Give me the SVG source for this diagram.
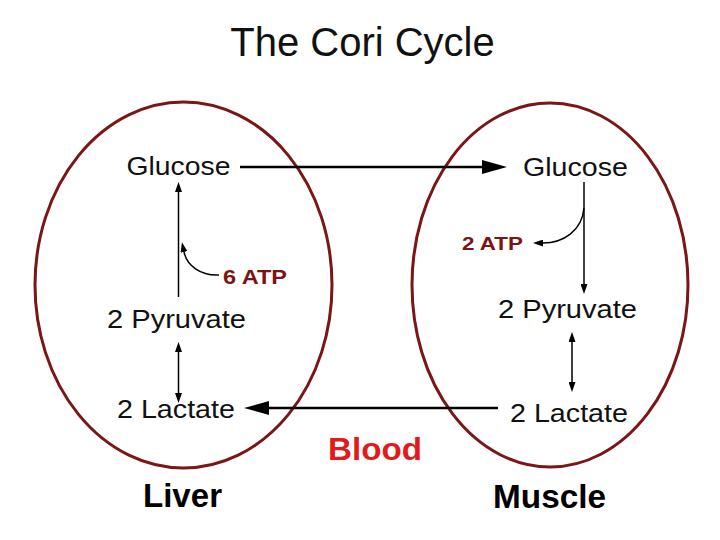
<svg xmlns="http://www.w3.org/2000/svg" width="720" height="540" viewBox="0 0 720 540">
  <style>
    .bg { fill: #ffffff; }
    .organ { fill: none; stroke: #7a1616; stroke-width: 3; }
    .lbl { font-family: "Liberation Sans", Arial, sans-serif; font-size: 26px; fill: #111111; }
    .atp { font-family: "Liberation Sans", Arial, sans-serif; font-weight: bold; fill: #7b1414; }
    .title { font-family: "Liberation Sans", Arial, sans-serif; font-size: 40px; fill: #111111; }
    .organ-name { font-family: "Liberation Sans", Arial, sans-serif; font-size: 33px; font-weight: bold; fill: #000000; }
    .blood { font-family: "Liberation Sans", Arial, sans-serif; font-size: 32px; font-weight: bold; fill: #e01b1b; }
    .thick { fill: none; stroke: #000000; stroke-width: 2.5; }
    .thin { fill: none; stroke: #000000; stroke-width: 1.5; }
  </style>
  <defs>
    <marker id="bigHead" viewBox="0 0 25 14" markerWidth="25" markerHeight="14" refX="0" refY="7" orient="auto" markerUnits="userSpaceOnUse">
      <path d="M0,0 L25,7 L0,14 z" fill="#000000"/>
    </marker>
    <marker id="smallHead" viewBox="0 0 10 7" markerWidth="10" markerHeight="7" refX="0" refY="3.5" orient="auto-start-reverse" markerUnits="userSpaceOnUse">
      <path d="M0,0 L10,3.5 L0,7 z" fill="#000000"/>
    </marker>
  </defs>
  <rect class="bg" x="0" y="0" width="720" height="540"/>

  <g id="title">
    <text class="title" x="362.5" y="56" text-anchor="middle">The Cori Cycle</text>
  </g>

  <g id="liver">
    <ellipse class="organ" cx="183.5" cy="285" rx="148.5" ry="183"/>
  </g>
  <g id="muscle">
    <ellipse class="organ" cx="550" cy="285" rx="138" ry="182"/>
  </g>

  <g id="connectors">
    <line id="glucose-transport" class="thick" x1="240" y1="167" x2="482" y2="167" marker-end="url(#bigHead)"/>
    <line id="lactate-transport" class="thick" x1="498" y1="408" x2="269" y2="408" marker-end="url(#bigHead)"/>
    <line id="gluconeogenesis" class="thin" x1="178.5" y1="297" x2="178.5" y2="192" marker-end="url(#smallHead)"/>
    <path id="atp-in" class="thin" d="M219,275 C201,276 187,266 184,252" marker-end="url(#smallHead)"/>
    <line id="liver-ldh" class="thin" x1="178.5" y1="352" x2="178.5" y2="393" marker-start="url(#smallHead)" marker-end="url(#smallHead)"/>
    <line id="glycolysis" class="thin" x1="584" y1="182" x2="584" y2="284" marker-end="url(#smallHead)"/>
    <path id="atp-out" class="thin" d="M584,208 C582,231 563,243 543,243" marker-end="url(#smallHead)"/>
    <line id="muscle-ldh" class="thin" x1="572" y1="342" x2="572" y2="382" marker-start="url(#smallHead)" marker-end="url(#smallHead)"/>
  </g>

  <g id="liver-glucose"><text class="lbl" x="126.5" y="175" textLength="104" lengthAdjust="spacingAndGlyphs">Glucose</text></g>
  <g id="liver-pyruvate"><text class="lbl" x="107" y="328" textLength="139" lengthAdjust="spacingAndGlyphs">2 Pyruvate</text></g>
  <g id="liver-lactate"><text class="lbl" x="117" y="418" textLength="118" lengthAdjust="spacingAndGlyphs">2 Lactate</text></g>
  <g id="liver-atp"><text class="atp" x="223" y="284" font-size="20" textLength="64" lengthAdjust="spacingAndGlyphs">6 ATP</text></g>

  <g id="muscle-glucose"><text class="lbl" x="523" y="176" textLength="105" lengthAdjust="spacingAndGlyphs">Glucose</text></g>
  <g id="muscle-atp"><text class="atp" x="462" y="250" font-size="19" textLength="61" lengthAdjust="spacingAndGlyphs">2 ATP</text></g>
  <g id="muscle-pyruvate"><text class="lbl" x="498" y="318" textLength="139" lengthAdjust="spacingAndGlyphs">2 Pyruvate</text></g>
  <g id="muscle-lactate"><text class="lbl" x="510" y="422" textLength="118" lengthAdjust="spacingAndGlyphs">2 Lactate</text></g>

  <g id="blood-label"><text class="blood" x="328" y="460" textLength="94" lengthAdjust="spacingAndGlyphs">Blood</text></g>
  <g id="liver-label"><text class="organ-name" x="143" y="507" textLength="79" lengthAdjust="spacingAndGlyphs">Liver</text></g>
  <g id="muscle-label"><text class="organ-name" x="493" y="508" textLength="113" lengthAdjust="spacingAndGlyphs">Muscle</text></g>
</svg>
